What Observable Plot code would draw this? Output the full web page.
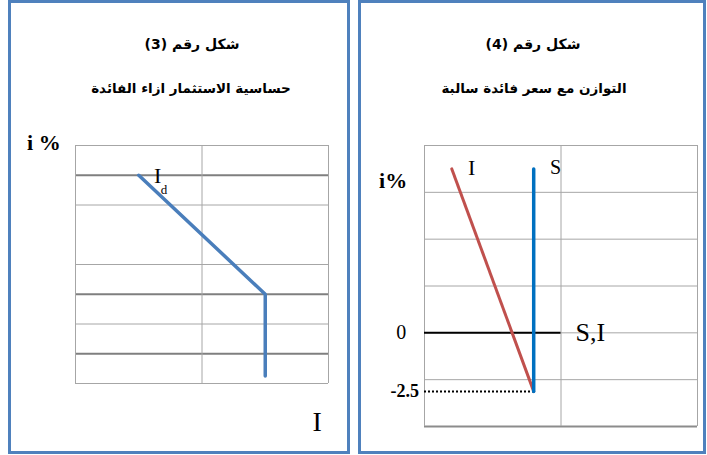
<!DOCTYPE html>
<html>
<head>
<meta charset="utf-8">
<script src="https://cdn.jsdelivr.net/npm/d3@7"></script>
<script src="https://cdn.jsdelivr.net/npm/@observablehq/plot@0.6"></script>
<style>
  html, body { margin: 0; padding: 0; background: #fff; }
  body { width: 707px; height: 455px; position: relative; overflow: hidden; }
  .panel { position: absolute; top: 0; height: 454px; box-sizing: border-box;
           border: 3px solid #4f81bd; }
  .panel svg { position: absolute; left: 0; top: 0; }
  .ttl { position: absolute; left: 0; right: 0; text-align: center; direction: rtl;
         font-family: "DejaVu Sans", sans-serif; font-weight: bold; color: #000; }
  .ttl1 { top: 33px; font-size: 14px; }
  .ttl2 { top: 77px; font-size: 13.5px; }
</style>
</head>
<body>
<div class="panel" id="p3" style="left:8px;width:342px;">
  <div class="ttl ttl1" style="margin-left:26px">شكل رقم (3)</div>
  <div class="ttl ttl2" style="margin-left:24px">حساسية الاستثمار ازاء الفائدة</div>
</div>
<div class="panel" id="p4" style="left:358px;width:348px;">
  <div class="ttl ttl1" style="margin-left:2px">شكل رقم (4)</div>
  <div class="ttl ttl2" style="margin-left:4px">التوازن مع سعر فائدة سالبة</div>
</div>
<script>
// Figure 3: investment demand against the interest rate
const fig3Grid = [0, 2, 4, 6, 8];
const fig3GridDark = [1, 3, 7];
const fig3Cols = [0, 1, 2];
const investX = [0.5, 1.5, 1.5];
const investY = [7, 3, 0.25];
const fig3LabelText = ["i %", "I", "d", "I"];
const fig3LabelX = [-0.25, 0.65, 0.70, 1.91];
const fig3LabelY = [8.07, 6.96, 6.52, -1.31];
const fig3LabelSize = [22, 22, 13, 28];
const fig3LabelWeight = ["bold", "normal", "normal", "normal"];

// Figure 4: saving / investment equilibrium with a negative rate
const fig4Grid = [8, 6, 4, 2, 0, -2, -4];
const fig4Cols = [0, 1, 2];
const curveIX = [0.2, 0.8];
const curveIY = [7, -2.5];
const curveSX = [0.8, 0.8];
const curveSY = [7, -2.5];
const negRate = -2.5;
const fig4LabelText = ["i%", "I", "S", "0", "S,I"];
const fig4LabelX = [-0.23, 0.345, 0.96, -0.17, 1.215];
const fig4LabelY = [6.5, 7.05, 7.05, 0, 0];
const fig4LabelSize = [22, 22, 20, 20, 26];
const fig4LabelWeight = ["bold", "normal", "normal", "normal", "normal"];

const serif = "Liberation Serif, Times New Roman, serif";

const lab3 = fig3LabelText.map((t, i) => ({t, x: fig3LabelX[i], y: fig3LabelY[i], s: fig3LabelSize[i], w: fig3LabelWeight[i]}));
const invest = investX.map((x, i) => ({x, y: investY[i]}));

const plot3 = Plot.plot({
  width: 336, height: 448,
  marginLeft: 64, marginRight: 19, marginTop: 142, marginBottom: 68,
  x: {domain: [0, 2], axis: null},
  y: {domain: [0, 8], axis: null},
  style: {background: "transparent", overflow: "visible"},
  marks: [
    Plot.ruleY(fig3Grid, {stroke: "#a6a6a6", strokeWidth: 1}),
    Plot.ruleY(fig3GridDark, {stroke: "#7f7f7f", strokeWidth: 2}),
    Plot.ruleX(fig3Cols, {stroke: "#a6a6a6", strokeWidth: 1}),
    Plot.line(invest, {x: "x", y: "y", stroke: "#4a7ebb", strokeWidth: 3.5, strokeLinejoin: "miter"}),
    ...lab3.map(d => Plot.text([d], {x: "x", y: "y", text: "t", fontSize: d.s, fontWeight: d.w,
      fontFamily: serif, fill: "#000"}))
  ]
});
document.getElementById("p3").appendChild(plot3);

const lab4 = fig4LabelText.map((t, i) => ({t, x: fig4LabelX[i], y: fig4LabelY[i], s: fig4LabelSize[i], w: fig4LabelWeight[i]}));
const curveI = curveIX.map((x, i) => ({x, y: curveIY[i]}));
const curveS = curveSX.map((x, i) => ({x, y: curveSY[i]}));

const plot4 = Plot.plot({
  width: 342, height: 448,
  marginLeft: 63, marginRight: 6, marginTop: 142, marginBottom: 25,
  x: {domain: [0, 2], axis: null},
  y: {domain: [-4, 8], axis: null},
  style: {background: "transparent", overflow: "visible"},
  marks: [
    Plot.ruleY(fig4Grid, {stroke: "#a6a6a6", strokeWidth: 1}),
    Plot.ruleY([-4], {stroke: "#8c8c8c", strokeWidth: 2}),
    Plot.ruleX(fig4Cols, {stroke: "#a6a6a6", strokeWidth: 1}),
    Plot.ruleY([0], {x1: 0, x2: 1, stroke: "#000", strokeWidth: 2}),
    Plot.ruleY([negRate], {x1: 0, x2: curveSX[0], stroke: "#000", strokeWidth: 2, strokeDasharray: "2,2"}),
    Plot.line(curveI, {x: "x", y: "y", stroke: "#c0504d", strokeWidth: 3}),
    Plot.line(curveS, {x: "x", y: "y", stroke: "#0070c0", strokeWidth: 3.5}),
    ...lab4.map(d => Plot.text([d], {x: "x", y: "y", text: "t", fontSize: d.s, fontWeight: d.w,
      fontFamily: serif, fill: "#000"})),
    Plot.text([negRate], {x: -0.04, y: d => d, text: d => String(d), textAnchor: "end",
      fontSize: 18, fontWeight: "bold", fontFamily: serif, fill: "#000"})
  ]
});
document.getElementById("p4").appendChild(plot4);
</script>
</body>
</html>
